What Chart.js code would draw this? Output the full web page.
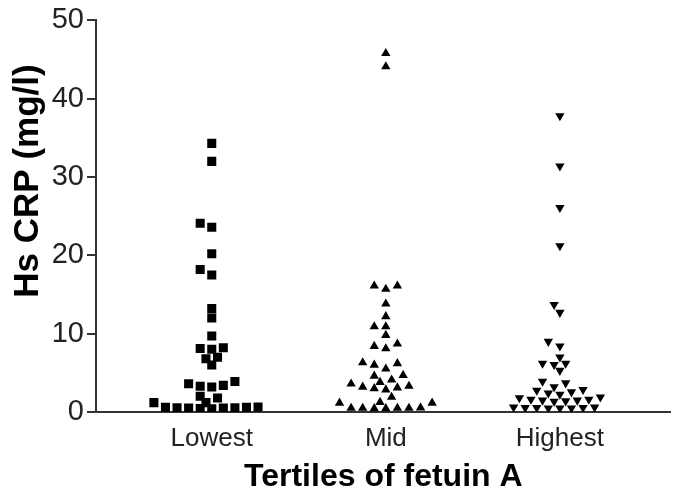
<!DOCTYPE html>
<html>
<head>
<meta charset="utf-8">
<script src="https://cdn.jsdelivr.net/npm/chart.js@4"></script>
<style>
  html, body { margin: 0; padding: 0; background: #fff; }
  #wrap { width: 677px; height: 496px; }
</style>
</head>
<body>
<div id="wrap"><canvas id="myChart"></canvas></div>
<script>
// data
const categories = ['Lowest', 'Mid', 'Highest'];
const yTicks = [0, 10, 20, 30, 40, 50];

const lowest = [34.3, 32.0, 24.1, 23.6, 20.2, 18.2, 17.5, 13.2, 12.0, 9.7,
  8.2, 8.0, 8.1, 7.0, 6.8, 6.0, 3.9, 3.4, 3.2, 3.3, 3.6, 2.0, 1.8, 1.2, 1.2,
  0.5, 0.55, 0.6, 0.4, 0.5, 0.45, 0.55, 0.6, 0.65];
const mid = [45.8, 44.1, 16.1, 15.7, 16.1, 13.8, 12.2, 10.9, 10.9, 9.8,
  8.7, 8.1, 8.4, 6.3, 6.0, 5.5, 6.2, 4.7, 4.1, 3.6, 3.8, 3.0, 4.6, 3.3, 3.2,
  2.85, 3.1, 1.9, 1.25, 1.15, 1.15,
  0.5, 0.45, 0.5, 0.55, 0.5, 0.45, 0.5];
const highest = [37.8, 31.4, 26.1, 21.2, 13.7, 12.7, 9.0, 8.4, 7.0, 6.2,
  6.05, 6.2, 5.3, 3.2, 3.7, 3.9, 2.75, 2.4, 1.9, 1.8, 1.5, 1.6, 1.4, 1.6,
  1.5, 2.25, 2.55, 2.85, 1.35,
  0.55, 0.5, 0.55, 0.6, 0.5, 0.55, 0.6, 0.5];

// spread points sideways where they would overlap (simple beeswarm)
function swarm(values, center) {
    const slotPx = 11.7, pxPerX = 176, pxPerY = 7.79, minDist = 8;
    const placed = [];
    values.slice().sort((a, b) => a - b).forEach(v => {
        for (let i = 0; i < 60; i++) {
            const k = (i % 2 ? -1 : 1) * Math.ceil(i / 2) * 0.5;
            const hit = placed.some(p => {
                const dx = (p.k - k) * slotPx, dy = (p.v - v) * pxPerY;
                return dx * dx + dy * dy < minDist * minDist;
            });
            if (!hit) { placed.push({ k, v }); break; }
        }
    });
    return placed.map(p => ({ x: center + p.k * slotPx / pxPerX, y: p.v }));
}

const font = 'Liberation Sans, Arial, Helvetica, sans-serif';
const axisColor = '#333';

// y title sits a bit above the middle of the axis in the original
const yTitle = {
    id: 'yTitle',
    afterDraw(chart) {
        const ctx = chart.ctx;
        ctx.save();
        ctx.translate(28, 181);
        ctx.rotate(-Math.PI / 2);
        ctx.font = 'bold 35px ' + font;
        ctx.fillStyle = '#000';
        ctx.textAlign = 'center';
        ctx.textBaseline = 'middle';
        ctx.fillText('Hs CRP (mg/l)', 0, 0);
        ctx.restore();
    }
};

const data = {
    datasets: [{
        label: categories[0],
        data: swarm(lowest, 1),
        pointStyle: 'rect',
        pointRadius: 6.4,
        backgroundColor: '#000',
        borderWidth: 0
    },
    {
        label: categories[1],
        data: swarm(mid, 2),
        pointStyle: 'triangle',
        pointRadius: 5.4,
        backgroundColor: '#000',
        borderWidth: 0
    },
    {
        label: categories[2],
        data: swarm(highest, 3),
        pointStyle: 'triangle',
        pointRotation: 180,
        pointRadius: 5.4,
        backgroundColor: '#000',
        borderWidth: 0
    }]
};

// config
const config = {
    type: 'scatter',
    data,
    plugins: [yTitle],
    options: {
        responsive: true,
        maintainAspectRatio: false,
        animation: false,
        layout: { padding: { top: 20, right: 0, left: 0, bottom: 0 } },
        plugins: {
            legend: { display: false },
            tooltip: { enabled: false }
        },
        scales: {
            x: {
                type: 'linear',
                min: 0.335,
                max: 3.636,
                afterBuildTicks: s => { s.ticks = [1, 2, 3].map(v => ({ value: v })); },
                afterFit: s => { s.height = 84; },
                ticks: {
                    callback: v => categories[v - 1],
                    color: '#222',
                    padding: 11,
                    font: { family: font, size: 26 }
                },
                grid: { display: false, drawTicks: false },
                border: { display: true, color: axisColor, width: 2 },
                title: {
                    display: true,
                    text: 'Tertiles of fetuin A',
                    color: '#000',
                    padding: { top: 4, bottom: 0 },
                    font: { family: font, size: 32, weight: 'bold' }
                }
            },
            y: {
                min: 0,
                max: 50,
                afterBuildTicks: s => { s.ticks = yTicks.map(v => ({ value: v })); },
                afterFit: s => { s.width = 96; },
                ticks: {
                    color: '#222',
                    padding: 3,
                    font: { family: font, size: 29 }
                },
                grid: {
                    drawOnChartArea: false,
                    drawTicks: true,
                    tickLength: 9,
                    color: axisColor,
                    lineWidth: 2
                },
                border: { display: true, color: axisColor, width: 2 },
                title: { display: false }
            }
        }
    }
};

// render init block
const myChart = new Chart(
    document.getElementById('myChart'),
    config
);
</script>
</body>
</html>
